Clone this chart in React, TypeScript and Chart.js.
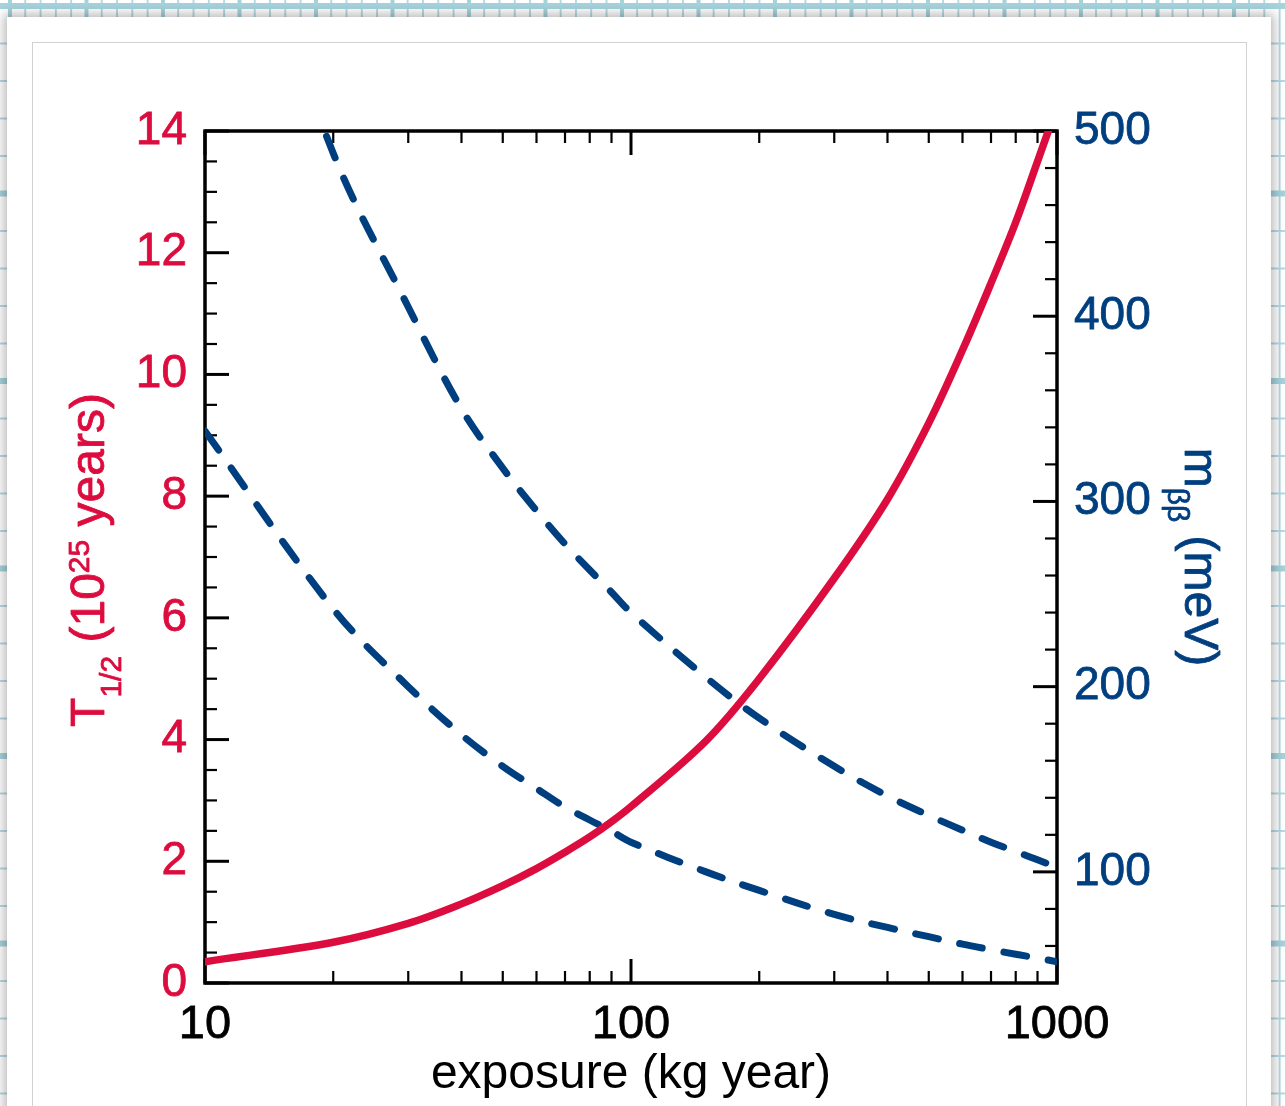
import React, { useEffect, useRef } from "react";
import { Chart, registerables } from "chart.js";

Chart.register(...registerables);

// ---------- data ----------
const exposure = [10, 20, 30, 40, 50, 60, 70, 80, 90, 100, 150, 200, 300, 400, 500, 600, 700, 800, 900, 1000];
const halfLife = [0.35, 0.67, 0.98, 1.3, 1.6, 1.88, 2.15, 2.4, 2.65, 2.9, 3.98, 5.0, 6.65, 7.95, 9.2, 10.4, 11.5, 12.5, 13.5, 14.4];
const massUpper = [680, 488, 405, 350, 318, 295, 277, 263, 251, 240, 205, 183, 157, 141, 130.5, 122.5, 116, 111, 106.5, 102.5];
const massLower = [338, 242, 200, 174, 157, 145, 135, 128, 122, 116, 100, 90, 77, 70, 65, 61, 58, 55.5, 53.5, 51.5];

const xTicks = [10, 100, 1000];
const xMinorTicks = [20, 30, 40, 50, 60, 70, 80, 90, 200, 300, 400, 500, 600, 700, 800, 900];
const leftTicks = [0, 2, 4, 6, 8, 10, 12, 14];
const leftMinorTicks = [0.5, 1, 1.5, 2.5, 3, 3.5, 4.5, 5, 5.5, 6.5, 7, 7.5, 8.5, 9, 9.5, 10.5, 11, 11.5, 12.5, 13, 13.5];
const rightTicks = [100, 200, 300, 400, 500];
const rightMinorTicks = [60, 80, 120, 140, 160, 180, 220, 240, 260, 280, 320, 340, 360, 380, 420, 440, 460, 480];

const xTitle = "exposure (kg year)";
const leftTitle = [
  { t: "T", sub: 0 },
  { t: "1/2", sub: 1 },
  { t: " (10", sub: 0 },
  { t: "25", sub: -1 },
  { t: " years)", sub: 0 },
];
const rightTitle = [
  { t: "m", sub: 0 },
  { t: "\u03b2\u03b2", sub: 1 },
  { t: " (meV)", sub: 0 },
];

const RED = "#dc0d3e";
const BLUE = "#003f7f";
const FONT = "'Liberation Sans', Arial, Helvetica, sans-serif";

function drawRich(ctx: CanvasRenderingContext2D, segs: { t: string; sub: number }[], cx: number, cy: number, rot: number, color: string) {
  const big = 48;
  const small = 30;
  ctx.save();
  ctx.translate(cx, cy);
  ctx.rotate(rot);
  ctx.fillStyle = color;
  ctx.strokeStyle = color;
  ctx.lineWidth = 0.8;
  ctx.lineJoin = "round";
  ctx.textBaseline = "alphabetic";
  ctx.textAlign = "left";
  let total = 0;
  for (const s of segs) {
    ctx.font = `${s.sub ? small : big}px ${FONT}`;
    total += ctx.measureText(s.t).width;
  }
  let cur = -total / 2;
  for (const s of segs) {
    ctx.font = `${s.sub ? small : big}px ${FONT}`;
    const dy = s.sub === 1 ? 17 : s.sub === -1 ? -15 : 0;
    ctx.fillText(s.t, cur, dy);
    ctx.strokeText(s.t, cur, dy);
    cur += ctx.measureText(s.t).width;
  }
  ctx.restore();
}

const framePlugin = {
  id: "frameTicks",
  beforeDatasetsDraw(chart: any) {
    const { ctx, chartArea: a, scales } = chart;
    const MAJ = 24;
    const MIN = 12;
    ctx.save();
    ctx.strokeStyle = "#000";
    ctx.lineCap = "butt";
    const seg = (x1: number, y1: number, x2: number, y2: number, w: number) => {
      ctx.lineWidth = w;
      ctx.beginPath();
      ctx.moveTo(x1, y1);
      ctx.lineTo(x2, y2);
      ctx.stroke();
    };
    for (const v of xTicks) {
      const p = scales.x.getPixelForValue(v);
      seg(p, a.bottom, p, a.bottom - MAJ, 3);
      seg(p, a.top, p, a.top + MAJ, 3);
    }
    for (const v of xMinorTicks) {
      const p = scales.x.getPixelForValue(v);
      seg(p, a.bottom, p, a.bottom - MIN, 2.2);
      seg(p, a.top, p, a.top + MIN, 2.2);
    }
    for (const v of leftTicks) {
      const p = scales.y.getPixelForValue(v);
      seg(a.left, p, a.left + MAJ, p, 3);
    }
    for (const v of leftMinorTicks) {
      const p = scales.y.getPixelForValue(v);
      seg(a.left, p, a.left + MIN, p, 2.2);
    }
    for (const v of rightTicks) {
      const p = scales.y1.getPixelForValue(v);
      seg(a.right, p, a.right - MAJ, p, 3);
    }
    for (const v of rightMinorTicks) {
      const p = scales.y1.getPixelForValue(v);
      seg(a.right, p, a.right - MIN, p, 2.2);
    }
    ctx.lineWidth = 3.5;
    ctx.strokeRect(a.left, a.top, a.right - a.left, a.bottom - a.top);
    ctx.restore();
  },
  afterDraw(chart: any) {
    const { ctx } = chart;
    drawRich(ctx, leftTitle, 104, 560, -Math.PI / 2, RED);
    drawRich(ctx, rightTitle, 1185, 557, Math.PI / 2, BLUE);
  },
};

export default function App() {
  const ref = useRef<HTMLCanvasElement | null>(null);

  useEffect(() => {
    document.body.style.margin = "0";
    const canvas = ref.current;
    if (!canvas) return;
    const pts = (ys: number[]) => exposure.map((x, i) => ({ x, y: ys[i] }));
    const lineStyle = {
      pointRadius: 0,
      tension: 0.35,
      borderCapStyle: "round",
      borderJoinStyle: "round",
    };
    const chart = new Chart(canvas, {
      type: "line",
      data: {
        datasets: [
          {
            label: "T1/2",
            data: pts(halfLife),
            yAxisID: "y",
            borderColor: RED,
            backgroundColor: RED,
            borderWidth: 7.5,
            ...lineStyle,
          },
          {
            label: "m upper",
            data: pts(massUpper),
            yAxisID: "y1",
            borderColor: BLUE,
            backgroundColor: BLUE,
            borderWidth: 7,
            borderDash: [23, 22],
            ...lineStyle,
          },
          {
            label: "m lower",
            data: pts(massLower),
            yAxisID: "y1",
            borderColor: BLUE,
            backgroundColor: BLUE,
            borderWidth: 7,
            borderDash: [23, 22],
            ...lineStyle,
          },
        ],
      },
      options: {
        responsive: false,
        animation: false,
        devicePixelRatio: 1,
        layout: { padding: { top: 131, left: 0, right: 0, bottom: 0 } },
        plugins: { legend: { display: false }, tooltip: { enabled: false } },
        scales: {
          x: {
            type: "logarithmic",
            position: "bottom",
            min: 10,
            max: 1000,
            grid: { display: false, drawTicks: false },
            border: { display: false },
            afterBuildTicks: (s: any) => {
              s.ticks = xTicks.map((v) => ({ value: v }));
            },
            afterFit: (s: any) => {
              s.height = 123;
            },
            ticks: {
              autoSkip: false,
              maxRotation: 0,
              padding: 14,
              color: "#000",
              textStrokeColor: "#000",
              textStrokeWidth: 0.8,
              font: { family: FONT, size: 47 },
              callback: (v: any) => String(v),
            },
            title: {
              display: true,
              text: xTitle,
              color: "#000",
              font: { family: FONT, size: 48 },
              padding: { top: 0, bottom: 2 },
            },
          },
          y: {
            type: "linear",
            position: "left",
            min: 0,
            max: 14,
            grid: { display: false, drawTicks: false },
            border: { display: false },
            afterBuildTicks: (s: any) => {
              s.ticks = leftTicks.map((v) => ({ value: v }));
            },
            afterFit: (s: any) => {
              s.width = 205;
            },
            ticks: {
              padding: 18,
              color: RED,
              textStrokeColor: RED,
              textStrokeWidth: 0.8,
              font: { family: FONT, size: 46 },
            },
          },
          y1: {
            type: "linear",
            position: "right",
            min: 40,
            max: 500,
            grid: { display: false, drawTicks: false },
            border: { display: false },
            afterBuildTicks: (s: any) => {
              s.ticks = rightTicks.map((v) => ({ value: v }));
            },
            afterFit: (s: any) => {
              s.width = 228;
            },
            ticks: {
              padding: 17,
              color: BLUE,
              textStrokeColor: BLUE,
              textStrokeWidth: 0.8,
              font: { family: FONT, size: 46 },
            },
          },
        },
      },
      plugins: [framePlugin],
    } as any);
    return () => chart.destroy();
  }, []);

  const paper: React.CSSProperties = {
    position: "absolute",
    left: 0,
    top: 0,
    width: 1285,
    height: 1106,
    overflow: "hidden",
    backgroundColor: "#ffffff",
    backgroundImage: [
      "linear-gradient(to bottom, #a6d2dc 0px, #a6d2dc 6px, transparent 6px)",
      "linear-gradient(to bottom, #b4d9e2 0px, #b4d9e2 2px, transparent 2px)",
      "linear-gradient(to right, #a6d2dc 0px, #a6d2dc 4px, transparent 4px)",
      "linear-gradient(to right, #b4d9e2 0px, #b4d9e2 2px, transparent 2px)",
    ].join(","),
    backgroundSize: "100% 187.5px, 100% 37.5px, 76.5px 100%, 15.3px 100%",
    backgroundPosition: "0 3px, 0 5px, 8px 0, 9px 0",
  };

  return (
    <div style={paper}>
      <div
        style={{
          position: "absolute",
          left: 7,
          top: 17,
          width: 1264,
          height: 1200,
          background: "#fff",
          boxShadow: "0 0 10px 3px rgba(0,0,0,0.28)",
        }}
      />
      <div
        style={{
          position: "absolute",
          left: 32,
          top: 42,
          width: 1213,
          height: 1200,
          background: "#fff",
          border: "1px solid #d2d2d2",
        }}
      />
      <canvas
        ref={ref}
        width={1285}
        height={1106}
        style={{ position: "absolute", left: 0, top: 0, width: 1285, height: 1106 }}
      />
    </div>
  );
}
